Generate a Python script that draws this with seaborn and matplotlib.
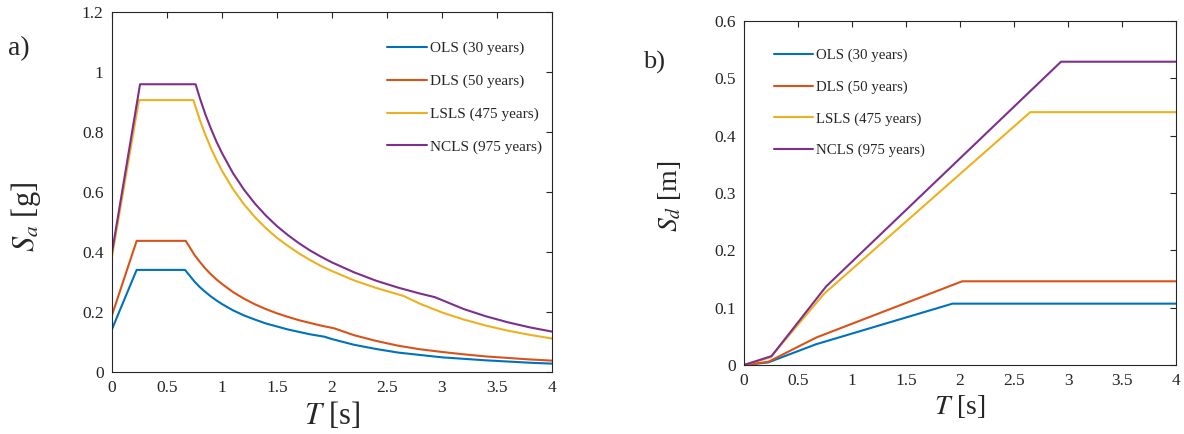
import numpy as np
import pandas as pd
import seaborn as sns
import matplotlib.pyplot as plt
from matplotlib.ticker import FuncFormatter, MultipleLocator

# ---------------- data ----------------
labels = ["OLS (30 years)", "DLS (50 years)", "LSLS (475 years)", "NCLS (975 years)"]
colors = ["#0072BD", "#D95319", "#EDB120", "#7E2F8E"]

# a) spectral acceleration Sa [g]
T_ols = [0, 0.224, 0.664, 0.75, 0.8, 0.85, 0.9, 0.95, 1.0, 1.1, 1.2, 1.3, 1.4, 1.5, 1.6, 1.7, 1.8, 1.93,
         2.0, 2.2, 2.4, 2.6, 2.8, 3.0, 3.2, 3.4, 3.6, 3.8, 4.0]
Sa_ols = [0.142, 0.340, 0.340, 0.301, 0.282, 0.266, 0.251, 0.238, 0.226, 0.205, 0.188, 0.174, 0.161, 0.151,
          0.141, 0.133, 0.125, 0.117,
          0.109, 0.090, 0.076, 0.064, 0.056, 0.048, 0.043, 0.038, 0.034, 0.030, 0.027]

T_dls = [0, 0.224, 0.67, 0.75, 0.8, 0.85, 0.9, 0.95, 1.0, 1.1, 1.2, 1.3, 1.4, 1.5, 1.6, 1.7, 1.8, 1.9, 2.02,
         2.2, 2.4, 2.6, 2.8, 3.0, 3.2, 3.4, 3.6, 3.8, 4.0]
Sa_dls = [0.189, 0.437, 0.437, 0.390, 0.366, 0.344, 0.325, 0.308, 0.293, 0.266, 0.244, 0.225, 0.209, 0.195,
          0.183, 0.172, 0.163, 0.154, 0.145,
          0.122, 0.103, 0.087, 0.075, 0.066, 0.058, 0.051, 0.046, 0.041, 0.037]

T_lsls = [0, 0.245, 0.74, 0.8, 0.85, 0.9, 0.95, 1.0, 1.1, 1.2, 1.3, 1.4, 1.5, 1.6, 1.7, 1.8, 1.9, 2.0,
          2.2, 2.4, 2.65, 2.8, 3.0, 3.2, 3.4, 3.6, 3.8, 4.0]
Sa_lsls = [0.385, 0.907, 0.907, 0.839, 0.790, 0.746, 0.707, 0.671, 0.610, 0.559, 0.516, 0.479, 0.447, 0.420,
           0.395, 0.373, 0.353, 0.336,
           0.305, 0.280, 0.253, 0.227, 0.198, 0.174, 0.154, 0.137, 0.123, 0.111]

T_ncls = [0, 0.255, 0.76, 0.8, 0.85, 0.9, 0.95, 1.0, 1.1, 1.2, 1.3, 1.4, 1.5, 1.6, 1.7, 1.8, 1.9, 2.0,
          2.2, 2.4, 2.6, 2.8, 2.935, 3.2, 3.4, 3.6, 3.8, 4.0]
Sa_ncls = [0.399, 0.960, 0.960, 0.912, 0.858, 0.811, 0.768, 0.730, 0.663, 0.608, 0.561, 0.521, 0.486, 0.456,
           0.429, 0.405, 0.384, 0.365,
           0.332, 0.304, 0.281, 0.261, 0.249, 0.209, 0.185, 0.165, 0.148, 0.134]

# b) spectral displacement Sd [m]
Td_ols = [0, 0.224, 0.664, 1.93, 4.0]
Sd_ols = [0, 0.0045, 0.036, 0.107, 0.107]
Td_dls = [0, 0.224, 0.67, 2.02, 4.0]
Sd_dls = [0, 0.0055, 0.048, 0.146, 0.146]
Td_lsls = [0, 0.245, 0.74, 2.65, 4.0]
Sd_lsls = [0, 0.0135, 0.124, 0.441, 0.441]
Td_ncls = [0, 0.255, 0.76, 2.935, 4.0]
Sd_ncls = [0, 0.0155, 0.137, 0.529, 0.529]

sa_series = [(T_ols, Sa_ols), (T_dls, Sa_dls), (T_lsls, Sa_lsls), (T_ncls, Sa_ncls)]
sd_series = [(Td_ols, Sd_ols), (Td_dls, Sd_dls), (Td_lsls, Sd_lsls), (Td_ncls, Sd_ncls)]

# ---------------- style ----------------
sns.set_style("white")
plt.rcParams['font.family'] = ['Liberation Serif', 'DejaVu Serif']
plt.rcParams['mathtext.fontset'] = 'stix'

fig = plt.figure(figsize=(11.84, 4.34), dpi=100)
ax1 = fig.add_axes([0.0946, 0.1435, 0.3716, 0.828])
ax2 = fig.add_axes([0.6284, 0.159, 0.3649, 0.7926])

fmt = FuncFormatter(lambda v, p: "%g" % round(v, 3))


def draw(ax, series, ylab, ymax, ystep, tick_fs, lab_fs, leg_fs, leg_pos, leg_sp):
    for (x, y), lab, c in zip(series, labels, colors):
        df = pd.DataFrame({"T": x, "S": y})
        sns.lineplot(data=df, x="T", y="S", ax=ax, color=c, label=lab,
                     linewidth=1.5, estimator=None, sort=False)
    ax.set_xlim(0, 4)
    ax.set_ylim(0, ymax)
    ax.xaxis.set_major_locator(MultipleLocator(0.5))
    ax.yaxis.set_major_locator(MultipleLocator(ystep))
    ax.xaxis.set_major_formatter(fmt)
    ax.yaxis.set_major_formatter(fmt)
    ax.tick_params(direction="in", top=True, right=True, length=4, width=0.8,
                   labelsize=tick_fs, colors="#262626", pad=6)
    for s in ax.spines.values():
        s.set_color("#262626")
        s.set_linewidth(0.8)
    ax.set_xlabel(r"$T$ [s]", fontsize=lab_fs, va="top")
    ax.set_ylabel(ylab, fontsize=lab_fs)
    ax.legend(loc="upper left", bbox_to_anchor=leg_pos, bbox_transform=fig.transFigure,
              frameon=False, fontsize=leg_fs, handlelength=2.6, handletextpad=0.2,
              labelspacing=leg_sp, borderpad=0, borderaxespad=0)


draw(ax1, sa_series, r"$S_a$ [g]", 1.2, 0.2, 12.5, 22, 11, (0.3269, 0.905), 1.25)
draw(ax2, sd_series, r"$S_d$ [m]", 0.6, 0.1, 12.5, 20, 10.7, (0.6537, 0.888), 1.22)

ax1.xaxis.set_label_coords(0.5, -0.079)
ax1.yaxis.set_label_coords(-0.157, 0.43)
ax2.xaxis.set_label_coords(0.5, -0.081)
ax2.yaxis.set_label_coords(-0.141, 0.49)

fig.text(8 / 1184, 1 - 49 / 434, "a)", fontsize=20, va="center", ha="left")
fig.text(643 / 1184, 1 - 62 / 434, "b)", fontsize=19, va="center", ha="left")

fig.savefig("out.png", dpi=100)
